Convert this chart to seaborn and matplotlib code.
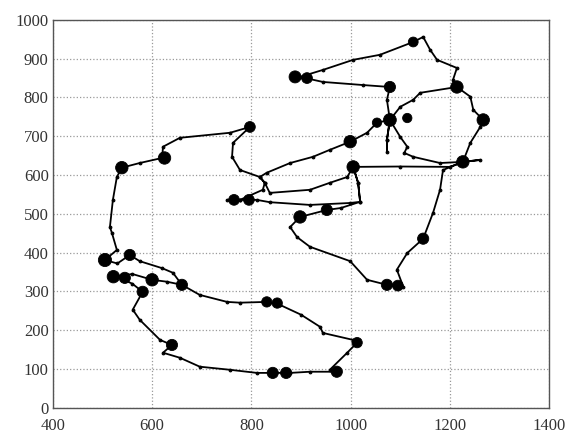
import numpy as np
import pandas as pd
import seaborn as sns
import matplotlib
matplotlib.use("Agg")
import matplotlib.pyplot as plt

# trajectory waypoints (in plot units)
path_x = [660, 696, 751, 777, 831, 858, 900, 938, 944, 1005, 1013, 993, 958, 972, 918, 878, 843, 811, 757, 696,
          656, 622, 640, 616, 575, 561, 581, 560, 529, 560, 600, 630, 660, 642, 620, 575, 555, 530, 505, 529,
          519, 515, 521, 529, 539, 575, 620, 622, 656, 757, 797, 763, 761, 777, 817, 827, 823, 777, 751, 777,
          811, 837, 918, 999, 1019,
          980, 952, 898, 878, 892, 918, 999, 1033, 1073, 1106, 1093, 1114, 1146, 1166, 1180, 1186, 1226, 1261,
          1226, 1200, 1100, 1005, 1015, 1019, 1015, 1005, 993, 958, 918, 837, 827, 817, 831, 878, 924, 958,
          999, 1033, 1053, 1079, 1073, 1073, 1073, 1079, 1100, 1114, 1108, 1126, 1180, 1226, 1241, 1261, 1267,
          1247, 1241, 1214, 1140, 1126, 1100, 1079, 1073, 1079, 1025, 944, 898, 944, 1005, 1059, 1126, 1146,
          1160, 1174, 1214, 1206, 1214]
path_y = [317, 291, 273, 271, 273, 265, 240, 209, 193, 175, 168, 142, 98, 93, 93, 90, 90, 90, 98, 106,
          129, 142, 162, 175, 227, 253, 299, 320, 338, 345, 330, 325, 317, 348, 360, 378, 394, 372, 381, 407,
          451, 466, 536, 595, 619, 631, 644, 673, 696, 709, 724, 683, 647, 613, 595, 580, 562, 536, 536, 536,
          536, 530, 523, 528, 531,
          515, 510, 492, 466, 440, 415, 378, 330, 317, 312, 356, 399, 436, 503, 562, 613, 634, 639,
          634, 621, 622, 621, 580, 531, 580, 621, 595, 580, 562, 554, 580, 595, 606, 631, 647, 665,
          686, 709, 735, 742, 691, 660, 691, 742, 698, 673, 657, 647, 631, 634, 683, 724, 742,
          768, 802, 827, 812, 794, 776, 742, 794, 827, 832, 840, 853, 871, 897, 910, 943, 956,
          923, 897, 876, 845, 827]

# places where the track lingers (dense blobs)
blob_x = [539, 625, 797, 765, 795, 898, 952, 1005, 999, 1079, 1053, 1114, 1079, 888, 912, 1126, 1214,
          1267, 1226, 1146, 1073, 1095, 1013, 972, 843, 870, 831, 852, 640, 660, 600, 581, 522, 545,
          505, 555]
blob_y = [619, 644, 724, 536, 536, 492, 510, 621, 686, 742, 735, 747, 827, 853, 850, 943, 827,
          742, 634, 436, 317, 315, 168, 93, 90, 90, 273, 270, 162, 317, 330, 299, 338, 335,
          381, 394]
blob_size = [80, 80, 60, 60, 60, 80, 65, 80, 80, 85, 45, 45, 65, 75, 60, 50, 80,
             80, 80, 65, 65, 60, 55, 65, 65, 65, 55, 55, 65, 65, 80, 65, 80, 65,
             90, 65]

track = pd.DataFrame({"x": path_x, "y": path_y, "step": np.arange(len(path_x))})
blobs = pd.DataFrame({"x": blob_x, "y": blob_y, "s": blob_size})

sns.set_style("white")
plt.rcParams["font.family"] = ["Liberation Serif", "DejaVu Serif"]

fig = plt.figure(figsize=(5.68, 4.32), dpi=100)
ax = fig.add_axes([0.093, 0.056, 0.874, 0.898])

sns.lineplot(data=track, x="x", y="y", sort=False, estimator=None, color="black",
             linewidth=1.3, marker=".", markersize=4, markeredgecolor="black", ax=ax)
sns.scatterplot(data=blobs, x="x", y="y", size="s", sizes=(min(blob_size), max(blob_size)),
                color="black", edgecolor="black", marker="o", legend=False, ax=ax, zorder=3)

ax.set_xlim(400, 1400)
ax.set_ylim(0, 1000)
ax.set_xticks(range(400, 1401, 200))
ax.set_yticks(range(0, 1001, 100))
ax.set_xlabel("")
ax.set_ylabel("")
ax.grid(True, linestyle=":", color="#999999", linewidth=0.9)
ax.tick_params(direction="in", length=4, labelsize=12, colors="#333333", pad=3)
ax.tick_params(axis="x", pad=7)
for sp in ax.spines.values():
    sp.set_visible(True)
    sp.set_color("#555555")
    sp.set_linewidth(1.0)

fig.savefig("out.png", dpi=100)
